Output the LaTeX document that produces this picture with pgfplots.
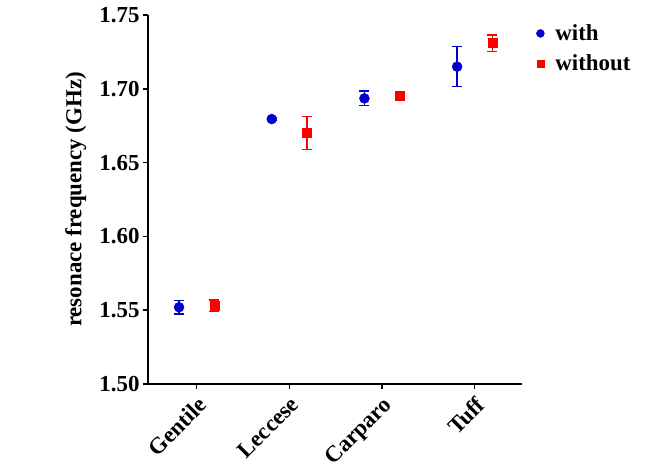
\documentclass[border=0pt]{standalone}
\usepackage{pgfplots}
\pgfplotsset{compat=1.18}
\usepackage{fontspec}
\setmainfont{Liberation Serif}
\definecolor{myblue}{RGB}{0,0,200}
\definecolor{myred}{RGB}{255,0,0}
\newcommand{\bigfont}{\fontsize{23}{27}\selectfont\bfseries}
\begin{document}
\begin{tikzpicture}
\useasboundingbox (-148bp,-84bp) rectangle (500bp,384bp);
\begin{axis}[
  at={(0,0)}, anchor=south west,
  scale only axis, width=374bp, height=369bp,
  xmin=-0.525, xmax=3.51, ymin=1.5, ymax=1.75,
  axis lines=left,
  axis line style={line width=1.5bp, -},
  tick style={line width=1.5bp, black},
  tick align=outside, major tick length=5bp,
  xtick={0,1,2,3},
  xticklabels={Gentile,Leccese,Carparo,Tuff},
  ytick={1.5,1.55,1.6,1.65,1.7,1.75},
  yticklabel style={font=\bigfont, /pgf/number format/fixed, /pgf/number format/fixed zerofill, /pgf/number format/precision=2, /pgf/number format/assume math mode=true},
  xticklabel style={font=\bigfont, rotate=45, anchor=north east, xshift=-1bp, yshift=-1bp},
  ylabel={resonace frequency (GHz)},
  ylabel style={font=\bigfont, at={(axis description cs:-0.193,0.5)}, anchor=center},
  legend style={at={(axis description cs:1.03,0.985)}, anchor=north west, draw=none, fill=none, font=\bigfont, row sep=9bp, column sep=9bp},
  legend image post style={scale=0.8},
  legend cell align=left,
  clip=false,
]
\addplot[only marks, color=myblue, mark=*, mark size=5bp,
  error bars/.cd, y dir=both, y explicit,
  error bar style={line width=1.3bp, myblue},
  error mark options={line width=1.3bp, myblue, mark size=5bp, rotate=90}]
  table[x=x, y=y, y error=e] {
x y e
-0.19 1.552 0.0045
0.81 1.6795 0.001
1.81 1.6935 0.005
2.81 1.715 0.0135
};
\addlegendentry{with}
\addplot[only marks, color=myred, mark=square*, mark size=4.5bp,
  error bars/.cd, y dir=both, y explicit,
  error bar style={line width=1.3bp, myred},
  error mark options={line width=1.3bp, myred, mark size=5bp, rotate=90}]
  table[x=x, y=y, y error=e] {
x y e
0.19 1.553 0.004
1.19 1.670 0.011
2.19 1.695 0.001
3.19 1.731 0.0055
};
\addlegendentry{without}
\end{axis}
\end{tikzpicture}
\end{document}
